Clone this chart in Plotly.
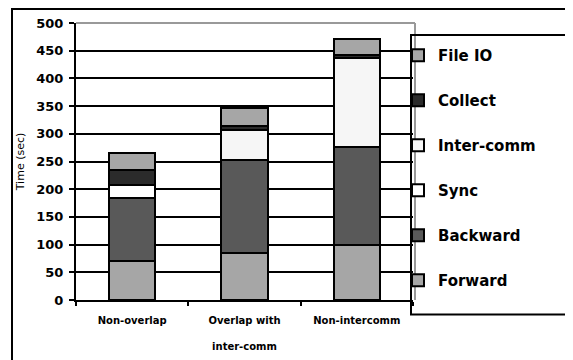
import plotly.graph_objects as go

categories = ["Non-overlap", "Overlap with<br><br>inter-comm", "Non-intercomm"]
series_names = ["Forward", "Backward", "Sync", "Inter-comm", "Collect", "File IO"]
forward = [70, 85, 100]
backward = [115, 167, 177]
sync = [22, 0, 0]
inter_comm = [0, 54, 159]
collect = [27, 8, 7]
file_io = [31, 32, 29]
y_ticks = [0, 50, 100, 150, 200, 250, 300, 350, 400, 450, 500]

series_values = [forward, backward, sync, inter_comm, collect, file_io]
colors = ["#a6a6a6", "#595959", "#ffffff", "#f6f6f6", "#2b2b2b", "#a6a6a6"]

fig = go.Figure()
n = len(series_names)
for i, (name, vals, col) in enumerate(zip(series_names, series_values, colors)):
    fig.add_trace(go.Bar(
        x=categories, y=vals, name=name, legendgroup=name, legendrank=n - i,
        marker=dict(color=col, line=dict(color="black", width=2)),
        width=0.41,
    ))

OFF = 8  # page body margin
W, H = 565, 352
L, T = 76 - OFF, 23 - OFF
R = W - (413 - OFF)
B = H - (300.5 - OFF)
pw = W - L - R
ph = H - T - B

def px(x):
    return (x - OFF - L) / pw

def py(y):
    return (H - B - (y - OFF)) / ph

fig.update_layout(
    width=W, height=H,
    margin=dict(l=L, r=R, t=T, b=B),
    barmode="stack",
    paper_bgcolor="white", plot_bgcolor="white",
    font=dict(family="DejaVu Sans", color="black"),
    showlegend=True,
    legend=dict(
        x=px(398), y=py(39), xanchor="left", yanchor="top",
        xref="paper", yref="paper",
        traceorder="grouped",
        tracegroupgap=22.5,
        font=dict(family="DejaVu Sans", size=15, weight="bold", color="black"),
        bgcolor="rgba(0,0,0,0)", borderwidth=0,
    ),
    xaxis=dict(
        type="category", range=[-0.5, 2.5], automargin=False,
        showline=True, linecolor="black", linewidth=2,
        ticks="outside", ticklen=4, tickwidth=2, tickcolor="black",
        tickson="boundaries", showgrid=False, ticklabelstandoff=10,
        tickfont=dict(family="DejaVu Sans", size=10, weight="bold"),
    ),
    yaxis=dict(
        range=[0, 500], tickvals=y_ticks, automargin=False,
        showline=True, linecolor="black", linewidth=2,
        ticks="outside", ticklen=5, tickwidth=2, tickcolor="black",
        showgrid=True, gridcolor="black", gridwidth=2,
        zeroline=False, ticklabelstandoff=3,
        tickfont=dict(family="DejaVu Sans", size=13, weight="bold"),
        title=dict(text="Time (sec)", font=dict(family="DejaVu Sans", size=11), standoff=9),
    ),
    shapes=[
        dict(type="line", xref="paper", yref="paper", x0=0, x1=px(415), y0=1, y1=1,
             line=dict(color="#999999", width=2), layer="above"),
        dict(type="line", xref="paper", yref="paper", x0=px(415), x1=px(415), y0=0, y1=1,
             line=dict(color="#999999", width=2), layer="above"),
        dict(type="rect", xref="paper", yref="paper", x0=px(411), x1=px(620), y0=py(315), y1=py(35),
             line=dict(color="black", width=2), fillcolor="rgba(0,0,0,0)", layer="above"),
        dict(type="rect", xref="paper", yref="paper", x0=px(12), x1=px(640), y0=py(400), y1=py(9),
             line=dict(color="black", width=2), fillcolor="rgba(0,0,0,0)", layer="above"),
    ],
)

fig.write_html("out.html")
